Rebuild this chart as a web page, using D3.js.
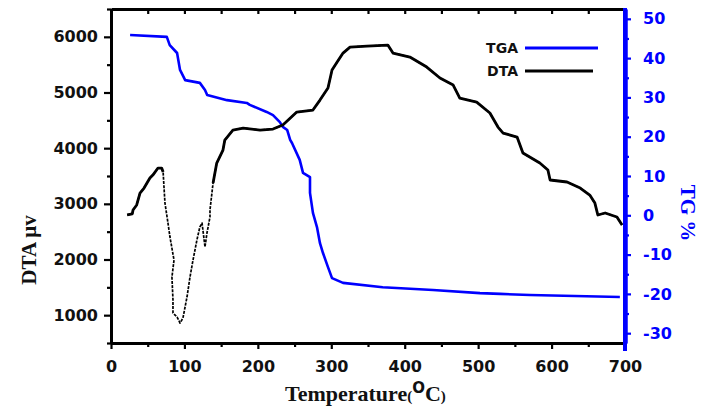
<!DOCTYPE html>
<html>
<head>
<meta charset="utf-8">
<script src="https://cdn.jsdelivr.net/npm/d3@7/dist/d3.min.js"></script>
<style>
html,body{margin:0;padding:0;background:#fff;}
svg{display:block;}
</style>
</head>
<body>
<svg id="chart" width="701" height="410"></svg>
<script>
// ---- data ----
const dtaTemp = [22,29,30,35,39.5,45,49,53,57,63,64,69,71,72,73.5,77.6,80.3,85.8,83,84.4,84.4,90,94,98,103.5,107.6,111.7,117,121,124,128,130.7,134.8,134.8,139,144,152.5,155,166,180,203,220.6,234,253,275,284.6,295.5,301,308,316,325.5,348.6,377,384,407,430,448,466,475,498,516,527,534,553,561,584,595,598,621,639,652,659,663,673,689,696];
const dtaValue = [2800,2820,2889,2980,3194,3284,3374,3463,3517,3625,3643,3643,3571,3338,3014,2655,2404,1991,1685,1272,1039,967,859,949,1326,1685,1991,2350,2583,2655,2224,2476,2763,2889,3374,3733,3966,4146,4325,4361,4325,4343,4415,4649,4685,4864,5080,5403,5547,5708,5816,5834,5852,5708,5637,5457,5260,5134,4900,4828,4631,4379,4271,4199,3912,3733,3607,3428,3392,3284,3158,3014,2799,2835,2763,2619];
const tgaTemp = [26,76,80,90,94,101,121,128,131,158,185,189,212,220.6,230,234,240,244,246.5,257,261.5,271,271,275,280.5,284.6,288.7,295.5,301,316,370,438.5,502.5,530,570.6,693];
const tgaValue = [45.9,45.4,43.3,41.3,37.0,34.4,33.7,31.9,30.6,29.3,28.6,28.1,26.3,25.5,23.7,22.5,21.7,19.2,18.4,14.1,10.8,9.7,5.7,0.6,-3.0,-7.1,-9.6,-13.2,-16.0,-17.2,-18.3,-19.0,-19.8,-20.0,-20.3,-20.8];
const xTicks = [0,100,200,300,400,500,600,700];
const dtaTicks = [1000,2000,3000,4000,5000,6000];
const tgTicks = [-30,-20,-10,0,10,20,30,40,50];
const seriesNames = ["TGA","DTA"];

// ---- layout ----
const L = 111, R = 625, T = 9, B = 343;
const blue = "#0000ff";
const svg = d3.select("#chart");

const x = d3.scaleLinear().domain([0,700]).range([L,R]);
const yL = d3.scaleLinear().domain([500,6500]).range([B,T]);
const yR = d3.scaleLinear().domain([-32.5,52.5]).range([B,T]);

const dta = dtaTemp.map((t,i)=>({t, v: dtaValue[i]}));
const tga = tgaTemp.map((t,i)=>({t, v: tgaValue[i]}));

const tickFont = "'DejaVu Sans', sans-serif";
const plain = d => String(d);

function styleAxis(g, color, lw){
  g.selectAll(".domain").attr("stroke", color).attr("stroke-width", lw);
  g.selectAll(".tick line").attr("stroke", color).attr("stroke-width", 2.2);
  g.selectAll(".tick text").attr("fill", color === blue ? blue : "#111")
    .style("font-family", tickFont).style("font-weight","bold").style("font-size","16px");
}

// top border with inward ticks
const minorX = d3.range(0,701,50);
const gTop = svg.append("g").attr("transform",`translate(0,${T})`)
  .call(d3.axisTop(x).tickValues(minorX).tickSizeInner(-5).tickSizeOuter(0).tickFormat(""));
styleAxis(gTop, "#000", 3);

// bottom axis
const gBm = svg.append("g").attr("transform",`translate(0,${B})`)
  .call(d3.axisBottom(x).tickValues(minorX.filter(v=>v%100!==0)).tickSizeInner(4).tickSizeOuter(0).tickFormat(""));
styleAxis(gBm, "#000", 3);
const gB = svg.append("g").attr("transform",`translate(0,${B})`)
  .call(d3.axisBottom(x).tickValues(xTicks).tickSizeInner(6).tickSizeOuter(0).tickPadding(12).tickFormat(plain));
styleAxis(gB, "#000", 3);

// left axis
const gLm = svg.append("g").attr("transform",`translate(${L},0)`)
  .call(d3.axisLeft(yL).tickValues(d3.range(500,6501,500).filter(v=>v%1000!==0)).tickSizeInner(4).tickSizeOuter(0).tickFormat(""));
styleAxis(gLm, "#000", 3);
const gL = svg.append("g").attr("transform",`translate(${L},0)`)
  .call(d3.axisLeft(yL).tickValues(dtaTicks).tickSizeInner(7).tickSizeOuter(0).tickPadding(6).tickFormat(plain));
styleAxis(gL, "#000", 3);

// lines
const lineL = d3.line().x(d=>x(d.t)).y(d=>yL(d.v));
const lineR = d3.line().x(d=>x(d.t)).y(d=>yR(d.v));

svg.append("path").datum(tga).attr("d", lineR)
  .attr("fill","none").attr("stroke",blue).attr("stroke-width",2.6).attr("stroke-linejoin","round");

svg.append("path").datum(dta).attr("d", lineL)
  .attr("fill","none").attr("stroke","#000").attr("stroke-width",1.7)
  .attr("stroke-dasharray","3,1.2").attr("stroke-linejoin","round");
svg.append("path").datum(dta).attr("d", lineL.defined(d=> d.t<=71 || d.t>=139))
  .attr("fill","none").attr("stroke","#000").attr("stroke-width",2.8).attr("stroke-linejoin","round");

// right axis (blue)
const gRm = svg.append("g").attr("transform",`translate(${R},0)`)
  .call(d3.axisRight(yR).tickValues(d3.range(-30,51,5).filter(v=>v%10!==0)).tickSizeInner(4).tickSizeOuter(0).tickFormat(""));
styleAxis(gRm, blue, 4);
const gR = svg.append("g").attr("transform",`translate(${R},0)`)
  .call(d3.axisRight(yR).tickValues(tgTicks).tickSizeInner(6).tickSizeOuter(0).tickPadding(12).tickFormat(plain));
styleAxis(gR, blue, 4);
svg.append("line").attr("x1",R).attr("x2",R).attr("y1",T-1).attr("y2",B+8)
  .attr("stroke",blue).attr("stroke-width",4);

// legend
const leg = svg.append("g");
const legY = [48, 71];
const legColor = [blue, "#000"];
const legEnd = [598, 593];
seriesNames.forEach((n,i)=>{
  leg.append("text").attr("x",518).attr("y",legY[i]+5).attr("text-anchor","end")
    .style("font-family",tickFont).style("font-weight","bold").style("font-size","14px")
    .attr("fill","#111").text(n);
  leg.append("line").attr("x1",525).attr("x2",legEnd[i]).attr("y1",legY[i]).attr("y2",legY[i])
    .attr("stroke",legColor[i]).attr("stroke-width",3);
});

// axis titles
const serif = "'Liberation Serif','Times New Roman',serif";
const xt = svg.append("text").attr("x",285).attr("y",401)
  .style("font-family",serif).style("font-weight","bold").attr("fill","#111");
xt.append("tspan").style("font-size","22px").text("Temperature");
xt.append("tspan").style("font-size","15px").text("(");
xt.append("tspan").style("font-size","15px").style("font-family",tickFont).attr("dy",-8).text("O");
xt.append("tspan").style("font-size","22px").attr("dy",8).text("C");
xt.append("tspan").style("font-size","15px").text(")");

svg.append("text").attr("transform","translate(36,250) rotate(-90)").attr("text-anchor","middle")
  .style("font-family",serif).style("font-weight","bold").style("font-size","21px")
  .attr("fill","#111").text("DTA μv");

svg.append("text").attr("transform","translate(681,213) rotate(90)").attr("text-anchor","middle")
  .style("font-family",serif).style("font-weight","bold").style("font-size","21px")
  .attr("fill",blue).text("TG %");
</script>
</body>
</html>
